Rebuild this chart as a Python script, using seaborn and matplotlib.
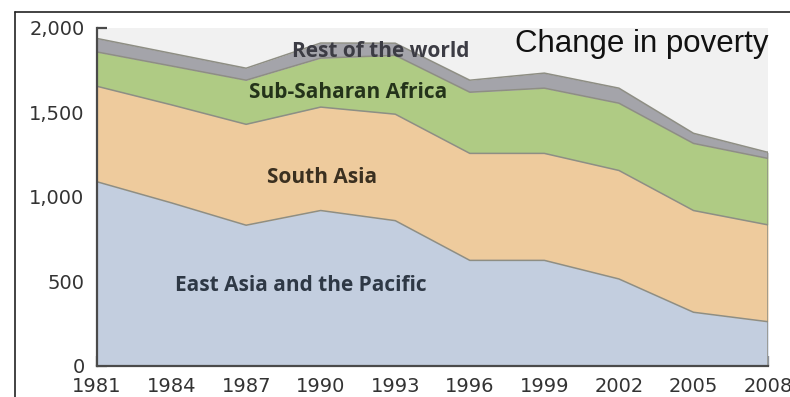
import numpy as np
import pandas as pd
import matplotlib
matplotlib.use("Agg")
import matplotlib.pyplot as plt
from matplotlib.lines import Line2D
import seaborn as sns

# Number of poor people (millions), by region
years = [1981, 1984, 1987, 1990, 1993, 1996, 1999, 2002, 2005, 2008]
east_asia = [1090, 965, 833, 920, 860, 625, 625, 515, 318, 262]
south_asia = [565, 580, 597, 612, 630, 633, 633, 642, 602, 573]
sub_saharan = [203, 230, 261, 290, 348, 362, 386, 398, 397, 393]
rest_world = [80, 75, 71, 89, 72, 71, 89, 89, 60, 36]

regions = ["East Asia and the Pacific", "South Asia", "Sub-Saharan Africa", "Rest of the world"]
colors = ["#c3cedf", "#eecb9d", "#afcb84", "#a4a4aa"]
y_ticks = [0, 500, 1000, 1500, 2000]
y_tick_labels = ["0", "500", "1,000", "1,500", "2,000"]

df = pd.DataFrame({"year": years, regions[0]: east_asia, regions[1]: south_asia,
                   regions[2]: sub_saharan, regions[3]: rest_world})

sns.set_theme(style="white")
plt.rcParams["font.family"] = ["DejaVu Sans"]

fig = plt.figure(figsize=(7.90, 3.97), dpi=100)
ax = fig.add_axes([0.1228, 0.0781, 0.8494, 0.8514])
ax.set_facecolor("#f1f1f1")

series = [df[r].to_numpy() for r in regions]
ax.stackplot(df["year"], *series, colors=colors, linewidth=0)

# region boundaries
cum = np.cumsum(np.vstack(series), axis=0)
for row in cum:
    sns.lineplot(x=df["year"], y=row, ax=ax, color="#8e8e84", linewidth=1.1, legend=False)
ax.plot([years[-1], years[-1]], [0, cum[-1][-1]], color="#8e8e84", linewidth=1.1)

ax.set_xlim(1981, 2008)
ax.set_ylim(0, 2000)
ax.set_xticks(years)
ax.set_xticklabels([str(y) for y in years])
ax.set_yticks(y_ticks)
ax.set_yticklabels(y_tick_labels)
ax.set_xlabel("")
ax.set_ylabel("")

for side in ["top", "right"]:
    ax.spines[side].set_visible(False)
for side in ["left", "bottom"]:
    ax.spines[side].set_color("#4a4a4a")
    ax.spines[side].set_linewidth(1.6)
ax.tick_params(axis="both", direction="in", length=7, width=1.6, color="#4a4a4a",
               labelsize=14, labelcolor="#333333")
ax.tick_params(axis="y", pad=9, left=True)
ax.tick_params(axis="x", pad=8, bottom=True)
ax.grid(False)

label_font = dict(family=["Open Sans", "DejaVu Sans"], fontsize=15, fontweight="bold",
                  ha="center", va="center")
ax.text(1992.4, 1860, "Rest of the world", color="#3c3c44", **label_font)
ax.text(1991.1, 1618, "Sub-Saharan Africa", color="#24331a", **label_font)
ax.text(1990.05, 1115, "South Asia", color="#3b3020", **label_font)
ax.text(1989.2, 476, "East Asia and the Pacific", color="#2e3845", **label_font)

fig.text(0.8127, 0.89, "Change in poverty", family=["Liberation Sans", "DejaVu Sans"],
         fontsize=22.5, color="#111111", ha="center", va="center")

# outer frame along the top and left edges
fig.add_artist(Line2D([15 / 790, 1.0], [1 - 12 / 397, 1 - 12 / 397], color="#222222",
                      linewidth=1.2, transform=fig.transFigure))
fig.add_artist(Line2D([15 / 790, 15 / 790], [0.0, 1 - 12 / 397], color="#222222",
                      linewidth=1.2, transform=fig.transFigure))

fig.savefig("out.png", dpi=100, facecolor="white")
